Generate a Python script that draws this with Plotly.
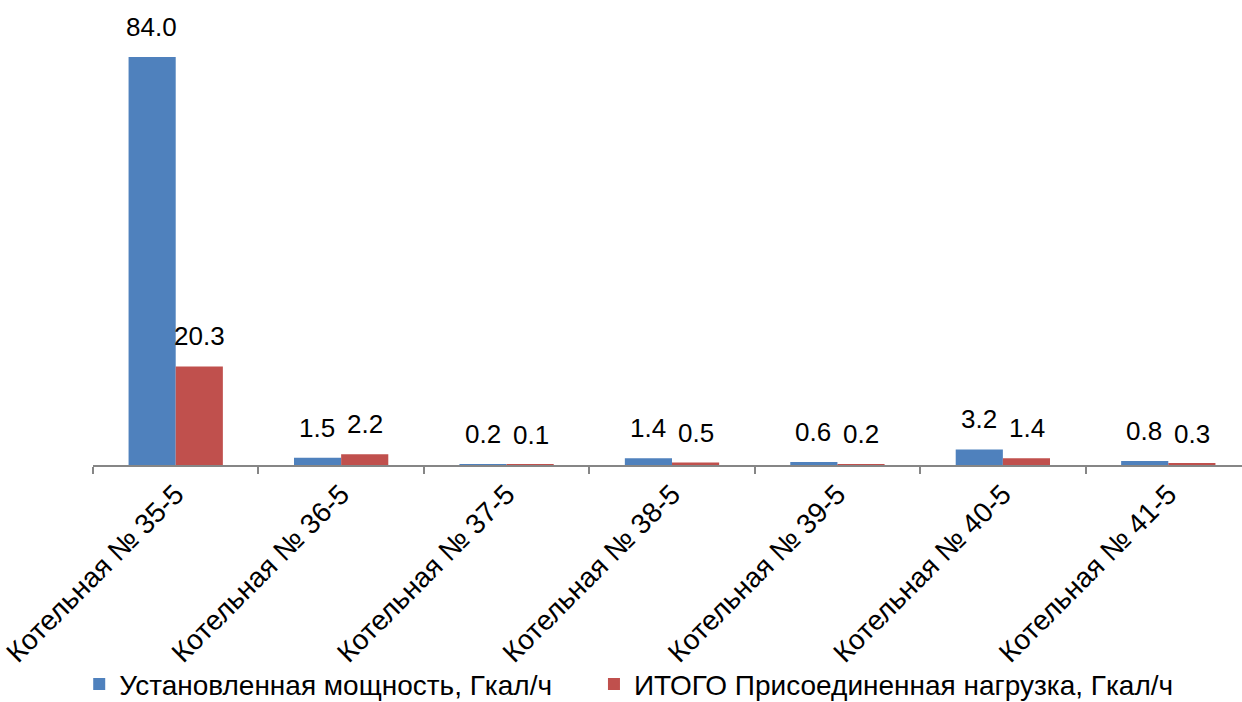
import plotly.graph_objects as go

# Boiler houses and their capacities, Gcal/h
categories = ["Котельная № 35-5", "Котельная № 36-5", "Котельная № 37-5",
              "Котельная № 38-5", "Котельная № 39-5", "Котельная № 40-5",
              "Котельная № 41-5"]
installed = [84.0, 1.5, 0.2, 1.4, 0.6, 3.2, 0.8]
connected = [20.3, 2.2, 0.1, 0.5, 0.2, 1.4, 0.3]

series_names = ["Установленная мощность, Гкал/ч",
                "ИТОГО Присоединенная нагрузка, Гкал/ч"]
colors = ["#4F81BD", "#C0504D"]
legend_ids = ["legend", "legend2"]

FONT = "Liberation Sans, Arial, sans-serif"

fig = go.Figure()
for name, vals, col, lg in zip(series_names, [installed, connected], colors, legend_ids):
    fig.add_trace(go.Bar(
        x=categories, y=vals, name=name, legend=lg,
        marker=dict(color=col, line=dict(width=0)),
    ))

# value labels above each bar
annotations = []
for vals, shift in [(installed, -24), (connected, 24)]:
    for cat, v in zip(categories, vals):
        annotations.append(dict(
            x=cat, y=v, xref="x", yref="y", text=f"{v:.1f}",
            showarrow=False, xshift=shift, yanchor="bottom", yshift=13,
            font=dict(family=FONT, size=26, color="#000000"),
        ))

legend_style = dict(orientation="h", yanchor="middle", xanchor="left",
                    font=dict(family=FONT, size=28), itemwidth=30,
                    bgcolor="rgba(0,0,0,0)")

fig.update_layout(
    width=1242, height=702,
    margin=dict(l=93, r=0, t=10, b=237, autoexpand=False),
    paper_bgcolor="white", plot_bgcolor="white",
    barmode="group", bargap=0.43, bargroupgap=0,
    font=dict(family=FONT, color="#000000"),
    showlegend=True,
    legend=dict(x=-0.012, y=-0.482, **legend_style),
    legend2=dict(x=0.436, y=-0.482, **legend_style),
    annotations=annotations,
)
fig.update_xaxes(
    range=[-0.5, 6.4456], showline=True, linecolor="#868686", linewidth=1.5,
    ticks="outside", tickson="boundaries", ticklen=7, tickcolor="#868686",
    tickwidth=1.5, tickangle=-45, tickfont=dict(family=FONT, size=28),
    showgrid=False, automargin=False,
)
fig.update_yaxes(range=[0, 93.68], visible=False, showgrid=False,
                 zeroline=False, automargin=False)

fig.write_html("out.html")
